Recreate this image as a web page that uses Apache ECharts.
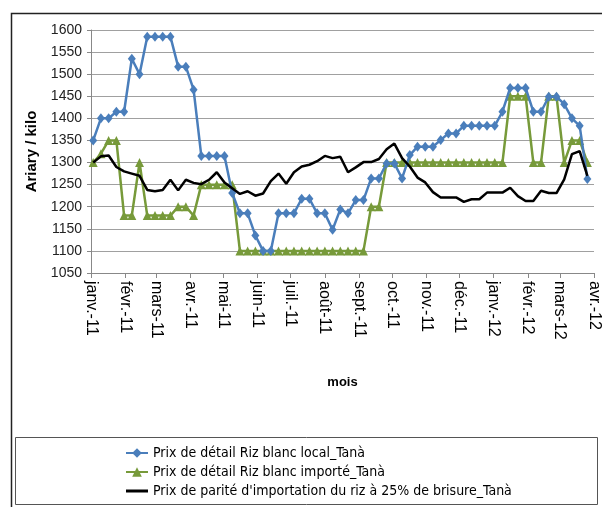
<!DOCTYPE html>
<html lang="fr">
<head>
    <meta charset="UTF-8">
    <title>Prix du riz Tanà</title>
    <script src="https://cdn.jsdelivr.net/npm/echarts@6/dist/echarts.min.js"></script>
    <style>
        html, body { margin: 0; padding: 0; background: #fff; }
        #main { width: 602px; height: 507px; }
    </style>
</head>
<body>
<div id="main"></div>
<script>
    // semaines (lundi)
    var dates = [
        '2011-01-03','2011-01-10','2011-01-17','2011-01-24','2011-01-31',
        '2011-02-07','2011-02-14','2011-02-21','2011-02-28',
        '2011-03-07','2011-03-14','2011-03-21','2011-03-28',
        '2011-04-04','2011-04-11','2011-04-18','2011-04-25',
        '2011-05-02','2011-05-09','2011-05-16','2011-05-23','2011-05-30',
        '2011-06-06','2011-06-13','2011-06-20','2011-06-27',
        '2011-07-04','2011-07-11','2011-07-18','2011-07-25',
        '2011-08-01','2011-08-08','2011-08-15','2011-08-22','2011-08-29',
        '2011-09-05','2011-09-12','2011-09-19','2011-09-26',
        '2011-10-03','2011-10-10','2011-10-17','2011-10-24','2011-10-31',
        '2011-11-07','2011-11-14','2011-11-21','2011-11-28',
        '2011-12-05','2011-12-12','2011-12-19','2011-12-26',
        '2012-01-02','2012-01-09','2012-01-16','2012-01-23','2012-01-30',
        '2012-02-06','2012-02-13','2012-02-20','2012-02-27',
        '2012-03-05','2012-03-12','2012-03-19','2012-03-26'
    ];
    var localPrice = [
        1350,1400,1400,1415,1415,1535,1500,1585,1585,1585,1585,1517,1517,1465,1315,1315,
        1315,1315,1231,1185,1185,1135,1100,1100,1185,1185,1185,1218,1218,1185,1185,1148,
        1194,1185,1215,1215,1264,1264,1298,1298,1264,1317,1336,1336,1336,1351,1366,1366,
        1383,1383,1383,1383,1383,1415,1469,1469,1469,1415,1415,1449,1449,1432,1400,1383,
        1263
    ];
    var importPrice = [
        1300,1320,1350,1350,1180,1180,1300,1180,1180,1180,1180,1200,1200,1180,1250,1250,
        1250,1250,1250,1100,1100,1100,1100,1100,1100,1100,1100,1100,1100,1100,1100,1100,
        1100,1100,1100,1100,1200,1200,1300,1300,1300,1300,1300,1300,1300,1300,1300,1300,
        1300,1300,1300,1300,1300,1300,1450,1450,1450,1300,1300,1450,1450,1300,1350,1350,
        1300
    ];
    var parityPrice = [
        1300,1314,1316,1290,1280,1275,1270,1238,1235,1238,1261,1237,1261,1254,1251,1261,
        1278,1255,1242,1229,1235,1225,1230,1258,1275,1252,1278,1291,1295,1303,1315,1310,
        1313,1278,1289,1301,1301,1308,1330,1343,1310,1291,1266,1255,1233,1221,1221,1221,
        1211,1217,1217,1232,1232,1232,1243,1224,1213,1213,1236,1231,1231,1262,1319,1326,
        1270
    ];
    var monthTicks = [
        '2011-01-01','2011-02-01','2011-03-01','2011-04-01','2011-05-01','2011-06-01',
        '2011-07-01','2011-08-01','2011-09-01','2011-10-01','2011-11-01','2011-12-01',
        '2012-01-01','2012-02-01','2012-03-01','2012-04-01'
    ];
    var monthLabels = [
        'janv.-11','févr.-11','mars-11','avr.-11','mai-11','juin-11',
        'juil.-11','août-11','sept.-11','oct.-11','nov.-11','déc.-11',
        'janv.-12','févr.-12','mars-12','avr.-12'
    ];
    var seriesNames = [
        'Prix de détail Riz blanc local_Tanà',
        'Prix de détail Riz blanc importé_Tanà',
        "Prix de parité d'importation du riz à 25% de brisure_Tanà"
    ];

    function toTime(s) {
        var p = s.split('-');
        return Date.UTC(+p[0], +p[1] - 1, +p[2]);
    }
    function pairs(values) {
        return dates.map(function (d, i) { return [toTime(d), values[i]]; });
    }
    var tickTimes = monthTicks.map(toTime);

    var myChart = echarts.init(document.getElementById('main'));
    var option = {
        backgroundColor: '#fff',
        animation: false,
        grid: { left: 91, right: 4, top: 30, bottom: 234, containLabel: false },
        legend: {
            orient: 'vertical',
            left: 120,
            top: 441,
            itemWidth: 22,
            itemHeight: 12,
            itemGap: 5,
            symbolKeepAspect: true,
            textStyle: { fontFamily: '"Liberation Sans Narrow", "DejaVu Sans Condensed", sans-serif', fontSize: 14, color: '#000' },
            data: [
                { name: seriesNames[0] },
                { name: seriesNames[1] },
                { name: seriesNames[2], icon: 'path://M0,0 L22,0 L22,3 L0,3 Z' }
            ]
        },
        xAxis: {
            type: 'value',
            min: tickTimes[0],
            max: tickTimes[tickTimes.length - 1],
            name: 'mois',
            nameLocation: 'middle',
            nameGap: 103,
            nameTextStyle: { fontFamily: 'Liberation Sans, Arial', fontWeight: 'bold', fontSize: 13, color: '#000' },
            axisLine: { lineStyle: { color: '#888', width: 1 } },
            axisTick: { show: true, length: 5, customValues: tickTimes, lineStyle: { color: '#888' } },
            axisLabel: {
                customValues: tickTimes,
                rotate: -90,
                margin: 8,
                hideOverlap: false,
                fontFamily: 'Liberation Sans, Arial',
                fontSize: 16,
                color: '#000',
                formatter: function (v) {
                    var i = tickTimes.indexOf(v);
                    return i >= 0 ? monthLabels[i] : '';
                }
            },
            splitLine: { show: false }
        },
        yAxis: {
            type: 'value',
            min: 1050,
            max: 1600,
            interval: 50,
            name: 'Ariary / kilo',
            nameLocation: 'middle',
            nameGap: 52,
            nameRotate: 90,
            nameTextStyle: { fontFamily: 'Liberation Sans, Arial', fontWeight: 'bold', fontSize: 15, color: '#000' },
            axisLine: { show: true, lineStyle: { color: '#888', width: 1 } },
            axisTick: { show: true, length: 4, lineStyle: { color: '#888' } },
            axisLabel: {
                fontFamily: 'Liberation Sans, Arial', fontSize: 14, color: '#222', margin: 9,
                formatter: function (v) { return String(v); }
            },
            splitLine: { lineStyle: { color: '#a0a0a0', width: 1 } }
        },
        graphic: [
            {
                type: 'rect', silent: true, z: -1,
                shape: { x: 11.5, y: 13.5, width: 620, height: 520 },
                style: { fill: 'none', stroke: '#222', lineWidth: 1.5 }
            },
            {
                type: 'rect', silent: true, z: -1,
                shape: { x: 15.5, y: 437.5, width: 582, height: 67 },
                style: { fill: 'none', stroke: '#555', lineWidth: 1 }
            }
        ],
        series: [
            {
                name: seriesNames[0],
                type: 'line',
                data: pairs(localPrice),
                symbol: 'diamond',
                symbolSize: [8, 10],
                itemStyle: { color: '#4A7EBB' },
                lineStyle: { width: 2.5, color: '#4A7EBB' },
                z: 3
            },
            {
                name: seriesNames[1],
                type: 'line',
                data: pairs(importPrice),
                symbol: 'triangle',
                symbolSize: 9,
                itemStyle: { color: '#779A3A' },
                lineStyle: { width: 2.5, color: '#779A3A' },
                z: 2
            },
            {
                name: seriesNames[2],
                type: 'line',
                data: pairs(parityPrice),
                symbol: 'none',
                itemStyle: { color: '#000' },
                lineStyle: { width: 2.5, color: '#000' },
                z: 4
            }
        ]
    };
    myChart.setOption(option);
</script>
</body>
</html>
